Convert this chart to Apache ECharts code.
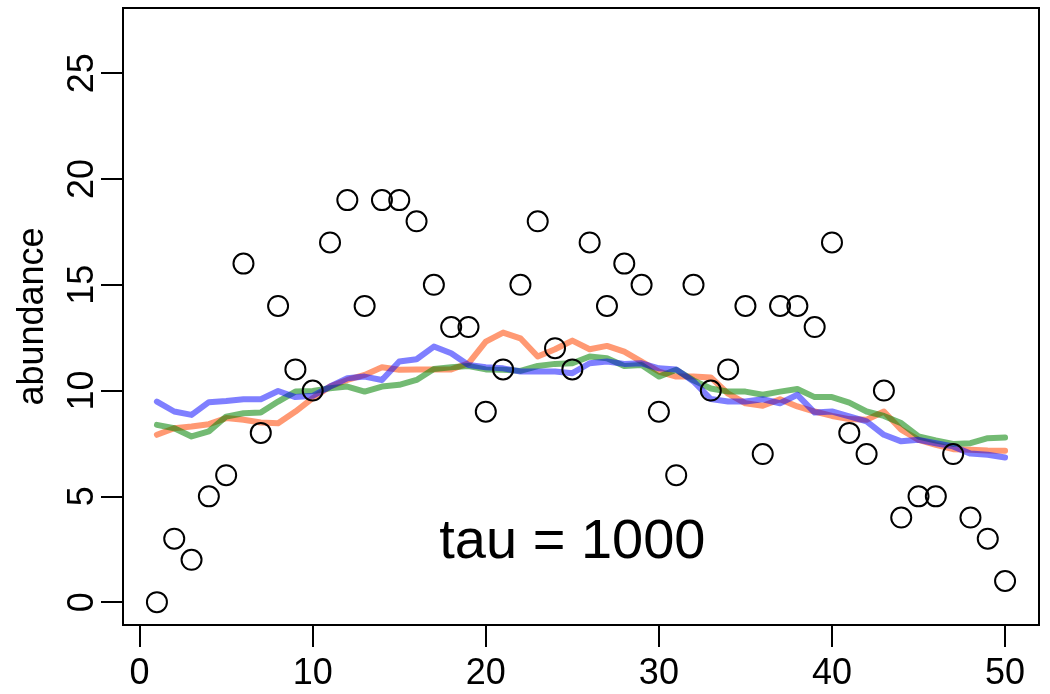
<!DOCTYPE html>
<html>
<head>
<meta charset="utf-8">
<script src="https://cdn.jsdelivr.net/npm/echarts@6/dist/echarts.min.js"></script>
<style>
  body { margin: 0; background: #fff; }
  #chart1 { width: 1050px; height: 694px; }
</style>
</head>
<body>
<div id="chart1"></div>
<script>
// data
var sites = [1,2,3,4,5,6,7,8,9,10,11,12,13,14,15,16,17,18,19,20,21,22,23,24,25,
             26,27,28,29,30,31,32,33,34,35,36,37,38,39,40,41,42,43,44,45,46,47,48,49,50];
var observed = [0,3,2,5,6,16,8,14,11,10,17,19,14,19,19,18,15,13,13,9,11,15,18,12,11,
                17,14,16,15,9,6,15,10,11,14,7,14,14,13,17,8,7,10,4,5,5,7,4,3,1];
var fitRed = [7.91,8.22,8.30,8.41,8.70,8.62,8.49,8.46,9.01,9.64,10.19,10.5,10.74,11.1,10.98,11.0,11.0,11.0,11.29,12.31,
              12.74,12.47,11.61,11.95,12.36,11.95,12.11,11.84,11.37,10.9,10.66,10.66,10.62,9.85,9.4,9.28,9.59,9.25,9.01,8.8,
              8.65,8.62,9.01,8.15,7.67,7.43,7.23,7.2,7.17,7.16];
var fitGreen = [8.38,8.22,7.83,8.07,8.77,8.93,8.96,9.48,9.95,9.98,10.11,10.19,9.95,10.19,10.27,10.5,11.02,11.1,11.16,11.0,
                10.98,10.93,11.16,11.26,11.29,11.61,11.53,11.16,11.21,10.66,10.98,10.48,10.1,9.95,9.95,9.8,9.95,10.07,9.69,9.69,
                9.43,9.01,8.8,8.46,7.83,7.64,7.48,7.51,7.75,7.78];
var fitBlue = [9.48,9.01,8.85,9.45,9.51,9.59,9.59,9.98,9.69,9.75,10.19,10.58,10.66,10.5,11.37,11.48,12.08,11.76,11.21,11.1,
               11.05,10.9,10.9,10.9,10.82,11.29,11.37,11.26,11.29,11.05,11.0,10.43,9.6,9.48,9.48,9.59,9.4,9.8,8.96,9.01,
               8.78,8.54,7.91,7.6,7.67,7.51,7.36,7.02,6.97,6.84];
var xTicks = [0,10,20,30,40,50];
var yTicks = [0,5,10,15,20,25];
var note = { x: 25, y: 3, text: 'tau = 1000' };

var font = "'Liberation Sans', Arial, Helvetica, sans-serif";

function pairs(ys) {
	return sites.map(function (x, i) { return [x, ys[i]]; });
}

function fitLine(name, ys, color) {
	return {
		name: name,
		type: 'line',
		data: pairs(ys),
		showSymbol: false,
		symbol: 'none',
		lineStyle: { color: color, width: 6, join: 'round', cap: 'round' },
		z: 2
	};
}

var chart = echarts.init(document.getElementById('chart1'));
chart.setOption({
	animation: false,
	backgroundColor: '#fff',
	textStyle: { fontFamily: font },
	grid: {
		left: 123, right: 11, top: 8, bottom: 69,
		show: true, borderColor: '#000', borderWidth: 2
	},
	xAxis: {
		type: 'value',
		min: -0.96,
		max: 51.96,
		axisLine: { show: true, onZero: false, lineStyle: { color: '#000', width: 2 } },
		axisTick: { show: true, customValues: xTicks, length: 22, lineStyle: { color: '#000', width: 2 } },
		axisLabel: { customValues: xTicks, fontSize: 36, color: '#000', margin: 31, fontFamily: font },
		splitLine: { show: false }
	},
	yAxis: {
		type: 'value',
		min: -1.08,
		max: 28.08,
		name: 'abundance',
		nameLocation: 'middle',
		nameRotate: 90,
		nameGap: 72,
		nameTextStyle: { fontSize: 36, color: '#000', fontFamily: font },
		axisLine: { show: true, onZero: false, lineStyle: { color: '#000', width: 2 } },
		axisTick: { show: true, customValues: yTicks, length: 22, lineStyle: { color: '#000', width: 2 } },
		axisLabel: { customValues: yTicks, fontSize: 36, color: '#000', margin: 22, rotate: 90, fontFamily: font },
		splitLine: { show: false }
	},
	series: [
		fitLine('red', fitRed, 'rgba(255,69,0,0.55)'),
		fitLine('green', fitGreen, 'rgba(0,130,0,0.55)'),
		fitLine('blue', fitBlue, 'rgba(0,0,255,0.5)'),
		{
			name: 'observed',
			type: 'scatter',
			data: pairs(observed),
			symbol: 'circle',
			symbolSize: 20,
			itemStyle: { color: 'rgba(0,0,0,0)', borderColor: '#000', borderWidth: 2, opacity: 1 },
			z: 3
		},
		{
			name: 'note',
			type: 'scatter',
			data: [[note.x, note.y]],
			symbolSize: 0,
			silent: true,
			itemStyle: { opacity: 1 },
			label: {
				show: true,
				position: 'inside',
				offset: [0, 4],
				formatter: note.text,
				fontSize: 56,
				color: '#000',
				fontFamily: font
			},
			z: 4
		}
	]
});
</script>
</body>
</html>
